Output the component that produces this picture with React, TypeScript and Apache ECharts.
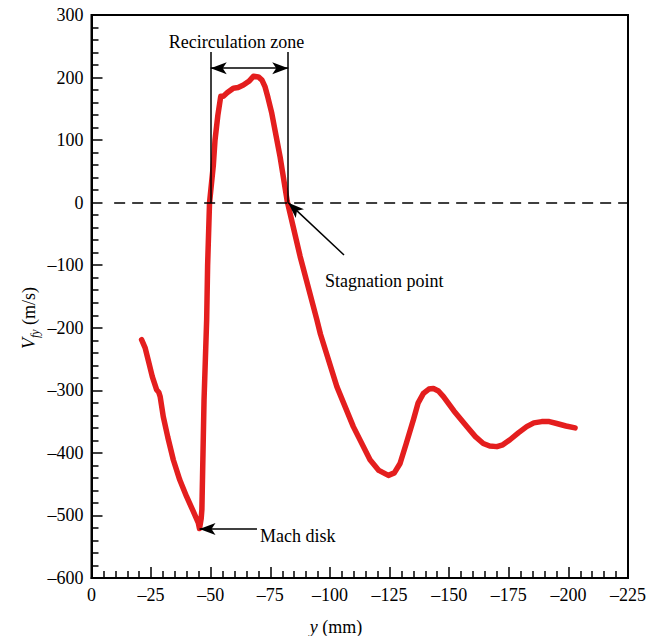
import React, { useEffect, useRef } from 'react';
import * as echarts from 'echarts';

// Radial position y (mm) and velocity V_fy (m/s)
const posY: number[] = [
  -21.0, -22.5, -24.0, -25.5, -27.3, -28.2, -28.8, -30.1, -32.0, -34.3, -37.0, -39.9, -42.5, -44.8, -45.3,
  -46.0, -46.3, -47.2, -48.3, -48.7, -49.5, -51.1, -51.8, -53.0, -54.2, -55.3, -57.0, -59.5, -61.5, -63.7,
  -66.0, -67.9, -70.0, -71.5, -72.8, -74.0, -75.6, -79.1, -82.1, -87.5, -94.5, -96.0, -102.9, -109.8,
  -116.8, -120.5, -124.5, -127.0, -129.4, -132.0, -135.0, -137.0, -139.2, -141.5, -143.4, -145.5, -147.6,
  -152.0, -157.4, -161.0, -164.3, -167.0, -170.0, -172.5, -175.5, -179.0, -182.5, -185.5, -188.8, -192.0,
  -195.1, -199.0, -202.8,
];
const velocity: number[] = [
  -219, -232, -255, -278, -299, -303, -310, -342, -375, -411, -443, -470, -492, -512, -521,
  -505, -490, -315, -187, -100, 0, 60, 100, 140, 170, 170, 176, 183, 184, 188,
  194, 202, 201, 196, 185, 168, 143, 73, 2, -86, -187, -210, -294, -358,
  -411, -428, -436, -432, -417, -385, -347, -320, -305, -298, -297, -301, -310,
  -333, -358, -374, -385, -389, -390, -387, -379, -368, -358, -352, -350, -350,
  -353, -357, -360,
];

// Annotation anchors (data coordinates)
const recircStart = -50;
const recircEnd = -82.5;
const recircTop = 241;
const recircArrowY = 215;
const stagnationTail: [number, number] = [-105.9, -83.6];
const stagnationTip: [number, number] = [-82.5, 0];
const machTail: [number, number] = [-69.4, -521.5];
const machTip: [number, number] = [-45.3, -521.5];

const FONT = "'Liberation Serif', 'Times New Roman', serif";
const fmt = (v: number) => (v < 0 ? '\u2013' + Math.abs(v) : String(v));

export default function App() {
  const ref = useRef<HTMLDivElement>(null);
  useEffect(() => {
    document.body.style.margin = '0';
    if (!ref.current) return;
    const chart = echarts.init(ref.current, null, { renderer: 'svg' });
    const black = { color: '#000', width: 1.5, type: 'solid' as const };
    chart.setOption({
      animation: false,
      backgroundColor: '#fff',
      grid: {
        left: 91.5, right: 24, top: 15, bottom: 58,
        show: true, borderColor: '#000', borderWidth: 2, backgroundColor: 'transparent',
      },
      xAxis: {
        type: 'value', min: -225, max: 0, interval: 25, inverse: true,
        axisLine: { show: true, onZero: false, lineStyle: { color: '#000', width: 2 } },
        axisTick: { show: true, inside: true, length: 11, lineStyle: { color: '#000', width: 1.5 } },
        minorTick: { show: true, splitNumber: 5, length: 7, lineStyle: { color: '#000', width: 1.5 } },
        splitLine: { show: false },
        axisLabel: { color: '#000', fontSize: 18, fontFamily: FONT, margin: 8, formatter: fmt },
      },
      yAxis: {
        type: 'value', min: -600, max: 300, interval: 100,
        axisLine: { show: true, onZero: false, lineStyle: { color: '#000', width: 2 } },
        axisTick: { show: true, inside: true, length: 11, lineStyle: { color: '#000', width: 1.5 } },
        minorTick: { show: true, splitNumber: 5, length: 7, lineStyle: { color: '#000', width: 1.5 } },
        splitLine: { show: false },
        axisLabel: { color: '#000', fontSize: 18, fontFamily: FONT, margin: 8, formatter: fmt },
      },
      series: [
        {
          type: 'line',
          data: posY.map((x, i) => [x, velocity[i]]),
          showSymbol: false,
          symbol: 'none',
          lineStyle: { color: '#e41e1e', width: 5.5, cap: 'round', join: 'round' },
          z: 3,
          markLine: {
            silent: true,
            symbol: ['none', 'none'],
            label: { show: false },
            emphasis: { disabled: true },
            data: [
              [
                { coord: [-9.5, 0], lineStyle: { color: '#000', width: 1.5, type: [11, 7] } },
                { coord: [-225, 0] },
              ],
              [{ coord: [recircStart, 0], lineStyle: black }, { coord: [recircStart, recircTop] }],
              [{ coord: [recircEnd, 0], lineStyle: black }, { coord: [recircEnd, recircTop] }],
              [
                { coord: [recircStart, recircArrowY], lineStyle: black, symbol: 'arrow', symbolSize: [9, 16] },
                { coord: [recircEnd, recircArrowY], symbol: 'arrow', symbolSize: [9, 16] },
              ],
              [
                { coord: stagnationTail, lineStyle: black, symbol: 'none' },
                { coord: stagnationTip, symbol: 'arrow', symbolSize: [9, 16] },
              ],
              [
                { coord: machTail, lineStyle: black, symbol: 'none' },
                { coord: machTip, symbol: 'arrow', symbolSize: [9, 16] },
              ],
            ],
          },
        },
      ],
      graphic: [
        {
          type: 'text', x: 236.5, y: 42,
          style: { text: 'Recirculation zone', fill: '#000', font: `18px ${FONT}`, textAlign: 'center', textVerticalAlign: 'middle' },
        },
        {
          type: 'text', x: 325, y: 281,
          style: { text: 'Stagnation point', fill: '#000', font: `18px ${FONT}`, textAlign: 'left', textVerticalAlign: 'middle' },
        },
        {
          type: 'text', x: 260, y: 536,
          style: { text: 'Mach disk', fill: '#000', font: `18px ${FONT}`, textAlign: 'left', textVerticalAlign: 'middle' },
        },
        {
          type: 'text', x: 29, y: 318, rotation: Math.PI / 2,
          style: {
            text: '{v|V}{s|fy}{n| (m/s)}',
            fill: '#000', textAlign: 'center', textVerticalAlign: 'middle',
            rich: {
              v: { fontFamily: FONT, fontSize: 18, fontStyle: 'italic', lineHeight: 24, fill: '#000' },
              s: { fontFamily: FONT, fontSize: 12, fontStyle: 'italic', lineHeight: 12, verticalAlign: 'bottom', fill: '#000' },
              n: { fontFamily: FONT, fontSize: 18, lineHeight: 24, fill: '#000' },
            },
          },
        },
        {
          type: 'text', x: 336, y: 627,
          style: {
            text: '{i|y}{n| (mm)}',
            fill: '#000', textAlign: 'center', textVerticalAlign: 'middle',
            rich: {
              i: { fontFamily: FONT, fontSize: 18, fontStyle: 'italic', fill: '#000' },
              n: { fontFamily: FONT, fontSize: 18, fill: '#000' },
            },
          },
        },
      ],
    });
    return () => chart.dispose();
  }, []);
  return <div ref={ref} style={{ width: 652, height: 636 }} />;
}
